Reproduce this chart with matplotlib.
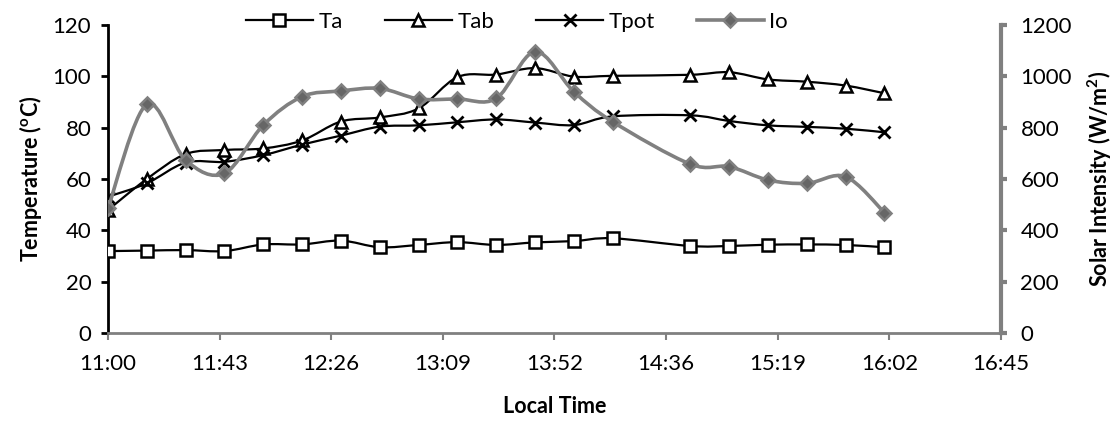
import matplotlib
matplotlib.use("Agg")
import matplotlib.pyplot as plt
import numpy as np
from matplotlib.path import Path
from matplotlib.patches import PathPatch
from matplotlib.lines import Line2D

plt.rcParams['font.family'] = ['Lato', 'DejaVu Sans']
plt.rcParams['mathtext.fontset'] = 'custom'
plt.rcParams['mathtext.bf'] = 'Lato:bold'

# Measurement times (local time)
times = ["11:00", "11:15", "11:30", "11:45", "12:00", "12:15", "12:30", "12:45",
         "13:00", "13:15", "13:30", "13:45", "14:00", "14:15",
         "14:45", "15:00", "15:15", "15:30", "15:45", "16:00"]

# Temperatures (oC)
Ta = [31.9, 32.1, 32.3, 31.9, 34.5, 34.5, 36.0, 33.4, 34.3, 35.4,
      34.3, 35.3, 35.8, 36.9, 33.9, 33.9, 34.4, 34.5, 34.3, 33.4]
Tab = [47.9, 60.0, 69.7, 71.3, 71.9, 75.0, 82.4, 84.0, 87.5, 99.7,
       100.7, 103.2, 99.9, 100.2, 100.6, 101.6, 98.8, 97.9, 96.4, 93.4]
Tpot = [53.1, 58.3, 66.4, 66.7, 69.3, 73.4, 76.9, 80.4, 80.9, 82.1,
        83.2, 82.0, 81.0, 84.4, 84.8, 82.6, 80.9, 80.3, 79.6, 78.2]
# Solar intensity (W/m2)
Io = [486, 891, 674, 622, 810, 921, 943, 953, 912, 912,
      914, 1096, 940, 823, 658, 648, 596, 583, 609, 469]

xtick_labels = ["11:00", "11:43", "12:26", "13:09", "13:52", "14:36", "15:19", "16:02", "16:45"]


def to_min(t):
    h, m = t.split(":")
    return (int(h) - 11) * 60 + int(m)


x = np.array([to_min(t) for t in times], dtype=float)


def smooth_path(xs, ys):
    # Excel-like smoothed line: cubic Bezier through the points
    pts = np.column_stack([xs, ys]).astype(float)
    n = len(pts)
    verts = [pts[0]]
    codes = [Path.MOVETO]
    for i in range(n - 1):
        p0 = pts[i - 1] if i > 0 else pts[i]
        p1 = pts[i]
        p2 = pts[i + 1]
        p3 = pts[i + 2] if i + 2 < n else pts[i + 1]
        c1 = p1 + (p2 - p0) / 6.0
        c2 = p2 - (p3 - p1) / 6.0
        verts += [c1, c2, p2]
        codes += [Path.CURVE4] * 3
    return Path(verts, codes)


fig = plt.figure(figsize=(11.19, 4.23), dpi=100)
ax = fig.add_axes([0.0965, 0.2128, 0.7980, 0.7281])
ax2 = ax.twinx()

grey = '#808080'

series = [
    (Ta, 's', 'Ta'),
    (Tab, '^', 'Tab'),
    (Tpot, 'x', 'Tpot'),
]
handles = []
for vals, mk, name in series:
    ax.add_patch(PathPatch(smooth_path(x, vals), fill=False, edgecolor='black',
                           lw=1.6, zorder=2))
    if mk == 'x':
        ax.plot(x, vals, linestyle='none', marker='x', ms=9, mew=2.0,
                color='black', zorder=3)
        h = Line2D([], [], color='black', lw=1.6, marker='x', ms=9, mew=2.0)
    else:
        ax.plot(x, vals, linestyle='none', marker=mk, ms=9, mew=1.8,
                mfc='white', mec='black', zorder=3)
        h = Line2D([], [], color='black', lw=1.6, marker=mk, ms=9, mew=1.8,
                   mfc='white', mec='black')
    handles.append((h, name))

ax2.add_patch(PathPatch(smooth_path(x, Io), fill=False, edgecolor=grey,
                        lw=2.6, zorder=2))
ax2.plot(x, Io, linestyle='none', marker='D', ms=7, mew=1.8,
         mfc='#666666', mec=grey, zorder=3)
handles.append((Line2D([], [], color=grey, lw=2.6, marker='D', ms=7, mew=1.8,
                       mfc='#666666', mec=grey), 'Io'))

ax.set_xlim(0, 345)
ax.set_ylim(0, 120)
ax2.set_ylim(0, 1200)
ax.set_xticks(np.linspace(0, 345, 9))
ax.set_xticklabels(xtick_labels)
ax.set_yticks(np.arange(0, 121, 20))
ax2.set_yticks(np.arange(0, 1201, 200))

for a in (ax, ax2):
    a.spines['top'].set_visible(False)
ax.spines['right'].set_visible(False)
ax.spines['left'].set_linewidth(2.0)
ax.spines['left'].set_color('black')
ax.spines['bottom'].set_linewidth(2.0)
ax.spines['bottom'].set_color(grey)
ax2.spines['left'].set_visible(False)
ax2.spines['bottom'].set_visible(False)
ax2.spines['right'].set_linewidth(3.0)
ax2.spines['right'].set_color(grey)

ax.tick_params(axis='y', direction='out', length=5, width=2, color='black',
               labelsize=16, pad=7)
ax.tick_params(axis='x', direction='out', length=5, width=1.5, color=grey,
               labelsize=16, pad=10)
ax2.tick_params(axis='y', direction='out', length=4, width=3, color=grey,
                labelsize=16, pad=10)

ax.set_xlabel('Local Time', fontsize=15.5, fontweight='bold', labelpad=16)
ax.set_ylabel(r'Temperature ($\mathbf{^{o}}$C)', fontsize=15.5, fontweight='bold',
              labelpad=6)
ax2.set_ylabel(r'Solar Intensity (W/m$\mathbf{^{2}}$)', fontsize=15.5,
               fontweight='bold', labelpad=10)

fig.legend([h for h, _ in handles], [n for _, n in handles], loc='center',
           bbox_to_anchor=(0.462, 0.948), ncol=4, frameon=False, fontsize=16,
           handlelength=3.0, columnspacing=1.9, handletextpad=0.25)

fig.savefig('out.png', dpi=100)
